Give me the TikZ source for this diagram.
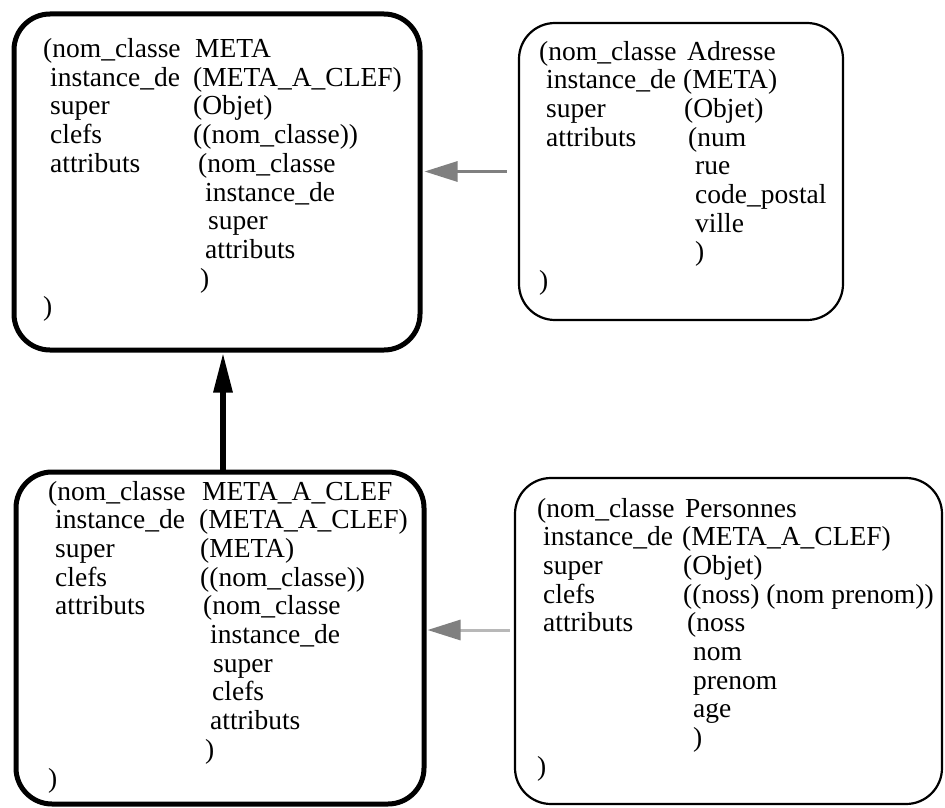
\documentclass[tikz,border=0pt]{standalone}
\usepackage{fontspec}
\setmainfont{Liberation Serif}
\usetikzlibrary{arrows.meta}
\begin{document}
\begin{tikzpicture}[x=1pt,y=-1pt,
  txt/.style={anchor=base west,inner sep=0pt,font=\fontsize{27.5}{28.7}\selectfont},
  heavybox/.style={draw,line width=5pt,rounded corners=36pt,inner sep=0pt},
  lightbox/.style={draw,line width=2.2pt,rounded corners=36pt,inner sep=0pt},
  isarrow/.style={line width=6pt,-{Triangle[length=40pt,width=18pt]}},
  grayarrow/.style={line width=3pt,color=#1,-{Triangle[length=33pt,width=20pt,color=black!50]}},
]
\useasboundingbox (0,0) rectangle (945,808);
% boxes
\node[heavybox,minimum width=406pt,minimum height=336pt] (box1) at (217,182) {};
\node[lightbox,minimum width=324pt,minimum height=297pt] (box2) at (681,171.5) {};
\node[heavybox,minimum width=408pt,minimum height=332pt] (box3) at (220,638) {};
\node[lightbox,minimum width=427pt,minimum height=326pt] (box4) at (728.5,641) {};

% box 1 text
\node[txt] (a1) at (43,57.5) {(nom\_classe};
\node[txt] (a2) at (50,86.2) {instance\_de};
\node[txt] (a3) at (50,114.9) {super};
\node[txt] (a4) at (50,143.6) {clefs};
\node[txt] (a5) at (50,172.3) {attributs};
\node[txt] (a6) at (43,315.8) {)};
\node[txt] (ar1) at (195,57.5) {META};
\node[txt] (ar2) at (193,86.2) {(META\_A\_CLEF)};
\node[txt] (ar3) at (193,114.9) {(Objet)};
\node[txt] (ar4) at (193,143.6) {((nom\_classe))};
\node[txt] (ar5) at (198,172.3) {(nom\_classe};
\node[txt] (ar6) at (205,201) {instance\_de};
\node[txt] (ar7) at (208,229.7) {super};
\node[txt] (ar8) at (205,258.4) {attributs};
\node[txt] (ar9) at (200,287.1) {)};

% box 2 text
\node[txt] (b1) at (539,60) {(nom\_classe};
\node[txt] (b2) at (546,88.7) {instance\_de};
\node[txt] (b3) at (546,117.4) {super};
\node[txt] (b4) at (546,146.1) {attributs};
\node[txt] (b5) at (539,289.6) {)};
\node[txt] (br1) at (687,60) {Adresse};
\node[txt] (br2) at (683,88.7) {(META)};
\node[txt] (br3) at (684,117.4) {(Objet)};
\node[txt] (br4) at (688,146.1) {(num};
\node[txt] (br5) at (695,174.8) {rue};
\node[txt] (br6) at (695,203.5) {code\_postal};
\node[txt] (br7) at (695,232.2) {ville};
\node[txt] (br8) at (695,260.9) {)};

% box 3 text
\node[txt] (c1) at (48,500) {(nom\_classe};
\node[txt] (c2) at (55,528.7) {instance\_de};
\node[txt] (c3) at (55,557.4) {super};
\node[txt] (c4) at (55,586.1) {clefs};
\node[txt] (c5) at (55,614.8) {attributs};
\node[txt] (c6) at (48,787) {)};
\node[txt] (cr1) at (202,500) {META\_A\_CLEF};
\node[txt] (cr2) at (199,528.7) {(META\_A\_CLEF)};
\node[txt] (cr3) at (200,557.4) {(META)};
\node[txt] (cr4) at (200,586.1) {((nom\_classe))};
\node[txt] (cr5) at (203,614.8) {(nom\_classe};
\node[txt] (cr6) at (210,643.5) {instance\_de};
\node[txt] (cr7) at (213,672.2) {super};
\node[txt] (cr8) at (212,700.9) {clefs};
\node[txt] (cr9) at (210,729.6) {attributs};
\node[txt] (cr10) at (205,758.3) {)};

% box 4 text
\node[txt] (d1) at (537,517) {(nom\_classe};
\node[txt] (d2) at (543,545.7) {instance\_de};
\node[txt] (d3) at (543,574.4) {super};
\node[txt] (d4) at (543,603.1) {clefs};
\node[txt] (d5) at (543,631.8) {attributs};
\node[txt] (d6) at (537,775.3) {)};
\node[txt] (dr1) at (685,517) {Personnes};
\node[txt] (dr2) at (682,545.7) {(META\_A\_CLEF)};
\node[txt] (dr3) at (683,574.4) {(Objet)};
\node[txt] (dr4) at (683,603.1) {((noss) (nom prenom))};
\node[txt] (dr5) at (687,631.8) {(noss};
\node[txt] (dr6) at (693,660.5) {nom};
\node[txt] (dr7) at (693,689.2) {prenom};
\node[txt] (dr8) at (693,717.9) {age};
\node[txt] (dr9) at (693,746.6) {)};

% connectors
\coordinate (vx) at (223,0);
\coordinate (h2) at (0,630);
\draw[isarrow] (box3.north -| vx) -- (box1.south -| vx);
\draw[grayarrow=black!50,shorten <=11pt,shorten >=2pt] (box2.west) -- (box2.west -| box1.east);
\draw[grayarrow=black!28,shorten <=4pt,shorten >=1pt] (box4.west |- h2) -- (box3.east |- h2);
\end{tikzpicture}
\end{document}
